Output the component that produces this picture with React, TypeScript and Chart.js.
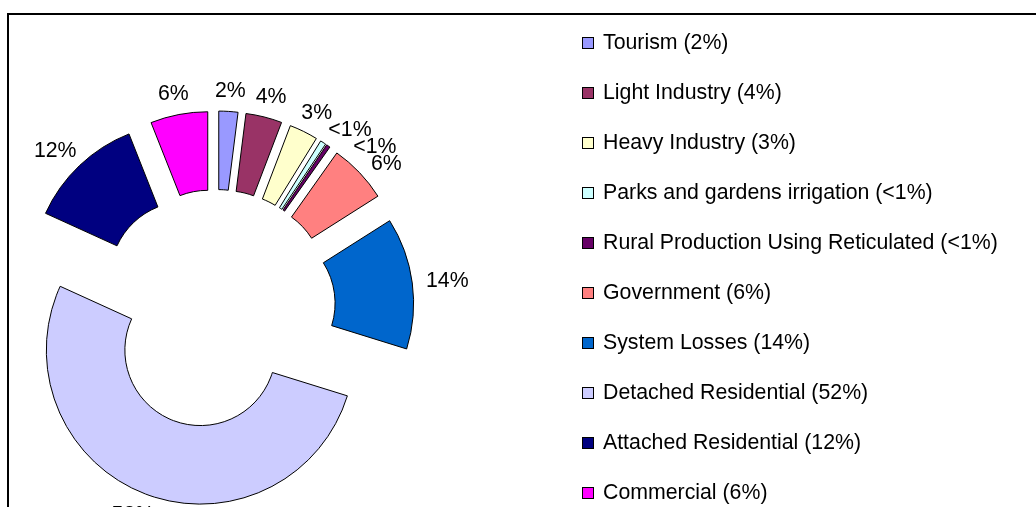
import React, { useEffect, useRef } from "react";
import { Chart, registerables } from "chart.js";

Chart.register(...registerables);

// ---- data ----
const categories = [
  "Tourism",
  "Light Industry",
  "Heavy Industry",
  "Parks and gardens irrigation",
  "Rural Production Using Reticulated",
  "Government",
  "System Losses",
  "Detached Residential",
  "Attached Residential",
  "Commercial",
];
const values = [2, 3.8, 3, 0.6, 0.4, 6.2, 13.8, 52, 12.2, 6];
const pctLabels = ["2%", "4%", "3%", "<1%", "<1%", "6%", "14%", "52%", "12%", "6%"];
const colors = [
  "#9999FF",
  "#993366",
  "#FFFFCC",
  "#CCFFFF",
  "#660066",
  "#FF8080",
  "#0066CC",
  "#CCCCFF",
  "#000080",
  "#FF00FF",
];

// ---- layout / style constants ----
const W = 1036;
const H = 507;
const FONT = '21.3px "Liberation Sans", Arial, sans-serif';
const EXPLODE = 44;
const LABEL_GAP = 14;
const LEGEND_BOX_X = 582;
const LEGEND_TEXT_X = 603;
const LEGEND_TOP = 42.5;
const LEGEND_STEP = 50;
const BOX = 12;

const framePlugin = {
  id: "frame",
  beforeDraw(chart: any) {
    const ctx = chart.ctx;
    ctx.save();
    ctx.fillStyle = "#fff";
    ctx.fillRect(0, 0, W, H);
    ctx.strokeStyle = "#000";
    ctx.lineWidth = 2;
    ctx.strokeRect(8, 14, 1200, 700);
    ctx.restore();
  },
};

const explodePlugin = {
  id: "explode",
  beforeDatasetDraw(chart: any, args: any) {
    const ctx = chart.ctx;
    const meta = args.meta;
    meta.data.forEach((arc: any) => {
      const mid = (arc.startAngle + arc.endAngle) / 2;
      ctx.save();
      ctx.translate(Math.cos(mid) * EXPLODE, Math.sin(mid) * EXPLODE);
      arc.draw(ctx);
      ctx.restore();
    });
    return false;
  },
};

const labelsPlugin = {
  id: "sliceLabels",
  afterDatasetsDraw(chart: any) {
    const ctx = chart.ctx;
    const meta = chart.getDatasetMeta(0);
    const placed: { l: number; r: number; t: number; b: number }[] = [];
    ctx.save();
    ctx.font = FONT;
    ctx.fillStyle = "#000";
    ctx.textAlign = "center";
    ctx.textBaseline = "middle";
    const h = 15;
    const ch = 17; // collision height
    meta.data.forEach((arc: any, i: number) => {
      const mid = (arc.startAngle + arc.endAngle) / 2;
      const dx = Math.cos(mid);
      const dy = Math.sin(mid);
      const R = EXPLODE + arc.outerRadius + LABEL_GAP;
      const text = pctLabels[i];
      const w = ctx.measureText(text).width;
      const cw = w + 2;
      let cx = arc.x + R * dx + (dx * w) / 2;
      let cy = arc.y + R * dy + (dy * h) / 2;
      const tx = -Math.sin(mid);
      const ty = Math.cos(mid);
      const overlaps = (x: number, y: number) =>
        placed.some(
          (p) => x - cw / 2 < p.r && x + cw / 2 > p.l && y - ch / 2 < p.b && y + ch / 2 > p.t
        );
      let guard = 0;
      while (overlaps(cx, cy) && guard < 200) {
        cx += tx;
        cy += ty;
        guard++;
      }
      placed.push({ l: cx - cw / 2, r: cx + cw / 2, t: cy - ch / 2, b: cy + ch / 2 });
      ctx.fillText(text, cx, cy + 1);
    });
    ctx.restore();
  },
};

const legendPlugin = {
  id: "sideLegend",
  afterDraw(chart: any) {
    const ctx = chart.ctx;
    const labels = chart.data.labels as string[];
    const bg = chart.data.datasets[0].backgroundColor as string[];
    ctx.save();
    ctx.font = FONT;
    ctx.textAlign = "left";
    ctx.textBaseline = "middle";
    labels.forEach((lab, i) => {
      const y = LEGEND_TOP + i * LEGEND_STEP;
      ctx.fillStyle = bg[i];
      ctx.fillRect(LEGEND_BOX_X, Math.round(y - BOX / 2), BOX, BOX);
      ctx.strokeStyle = "#000";
      ctx.lineWidth = 1;
      ctx.strokeRect(LEGEND_BOX_X + 0.5, Math.round(y - BOX / 2) + 0.5, BOX - 1, BOX - 1);
      ctx.fillStyle = "#000";
      ctx.fillText(`${lab} (${pctLabels[i]})`, LEGEND_TEXT_X, y + 1);
    });
    ctx.restore();
  },
};

export default function App() {
  const ref = useRef<HTMLCanvasElement | null>(null);
  useEffect(() => {
    if (!ref.current) return;
    const chart = new Chart(ref.current, {
      type: "doughnut",
      data: {
        labels: categories,
        datasets: [
          {
            data: values,
            backgroundColor: colors,
            borderColor: "#000",
            borderWidth: 1,
            borderJoinStyle: "miter",
            offset: 0,
            hoverOffset: 0,
            clip: false,
          } as any,
        ],
      },
      options: {
        responsive: false,
        animation: false,
        events: [],
        radius: 154,
        cutout: "49%",
        layout: { padding: { left: 0, right: W - 432, top: 111, bottom: 0 } },
        plugins: {
          legend: { display: false },
          tooltip: { enabled: false },
        },
      } as any,
      plugins: [framePlugin, explodePlugin, labelsPlugin, legendPlugin],
    });
    return () => chart.destroy();
  }, []);
  return (
    <canvas
      ref={ref}
      width={W}
      height={H}
      style={{ position: "absolute", left: 0, top: 0, width: W, height: H, display: "block" }}
    />
  );
}
